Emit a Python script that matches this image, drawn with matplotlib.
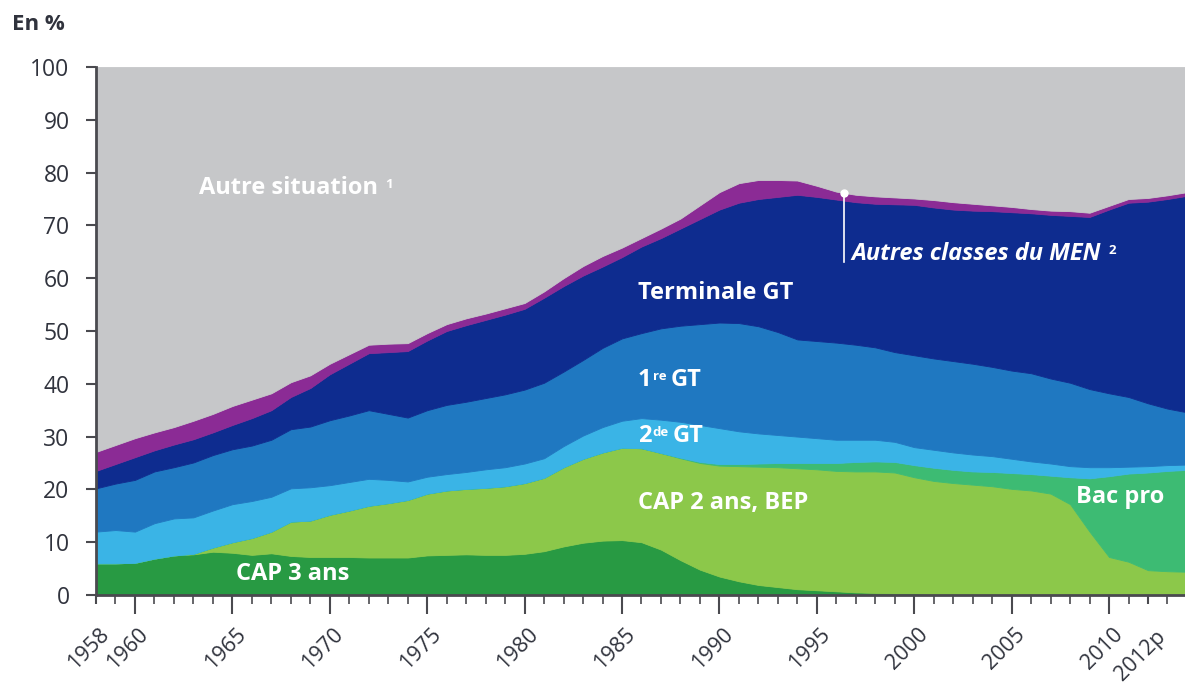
import matplotlib.pyplot as plt
import numpy as np
from matplotlib.transforms import ScaledTranslation

# shares in % of the age group, yearly from 1958 (last value closes the right edge)
years = np.arange(1958, 2015)

cap3 = [6.0, 6.0, 6.1, 6.9, 7.5, 7.7, 8.2, 8.0, 7.6, 7.9,
        7.4, 7.2, 7.2, 7.2, 7.1, 7.1, 7.1, 7.5, 7.6, 7.7,
        7.6, 7.6, 7.8, 8.3, 9.2, 9.9, 10.3, 10.4, 10.0, 8.6,
        6.6, 4.8, 3.5, 2.6, 1.9, 1.5, 1.1, 0.9, 0.7, 0.5,
        0.4, 0.3, 0.3, 0.2, 0.2, 0.1, 0.1, 0.1, 0.1, 0.1,
        0.1, 0.1, 0.1, 0.1, 0.1, 0.1, 0.1]
cap2_bep = [0.0, 0.0, 0.0, 0.0, 0.0, 0.1, 0.8, 2.0, 3.2, 4.1,
            6.5, 6.9, 8.0, 8.8, 9.8, 10.3, 10.9, 11.7, 12.2, 12.4,
            12.7, 13.0, 13.4, 13.9, 15.0, 15.9, 16.7, 17.5, 17.8, 18.3,
            19.3, 20.2, 21.0, 21.8, 22.4, 22.7, 22.9, 22.9, 22.8, 22.9,
            23.0, 22.9, 22.0, 21.4, 21.0, 20.8, 20.5, 20.0, 19.7, 19.1,
            17.1, 11.9, 7.1, 6.2, 4.6, 4.4, 4.3]
bac_pro = [0.0] * 30 + [
    0.1, 0.2, 0.3, 0.4, 0.6, 0.8, 1.0, 1.2, 1.5, 1.8,
    1.9, 2.0, 2.3, 2.5, 2.5, 2.5, 2.7, 3.0, 3.1, 3.4,
    5.1, 10.1, 15.3, 16.7, 18.5, 19.0, 19.3]
seconde_gt = [6.0, 6.3, 5.9, 6.7, 7.0, 6.9, 7.0, 7.2, 7.0, 6.6,
              6.3, 6.3, 5.6, 5.4, 5.1, 4.4, 3.5, 3.2, 3.1, 3.2,
              3.5, 3.6, 3.7, 3.7, 4.0, 4.4, 4.8, 5.1, 5.7, 6.3,
              6.8, 7.0, 6.8, 6.2, 5.7, 5.3, 5.0, 4.7, 4.4, 4.2,
              4.1, 3.8, 3.4, 3.4, 3.3, 3.2, 3.0, 2.7, 2.4, 2.3,
              2.1, 2.1, 1.7, 1.3, 1.2, 1.1, 1.0]
premiere_gt = [8.2, 8.8, 9.8, 9.8, 9.7, 10.4, 10.5, 10.4, 10.5, 10.8,
               11.2, 11.5, 12.3, 12.6, 13.0, 12.5, 12.1, 12.6, 13.1, 13.3,
               13.5, 13.8, 14.0, 14.3, 14.1, 14.3, 15.0, 15.6, 16.1, 17.3,
               18.2, 19.1, 20.0, 20.5, 20.3, 19.5, 18.4, 18.4, 18.4, 18.0,
               17.5, 17.0, 17.4, 17.3, 17.3, 17.2, 16.9, 16.7, 16.7, 16.1,
               15.8, 14.8, 14.0, 13.2, 11.9, 10.7, 9.9]
terminale_gt = [3.3, 3.7, 4.3, 4.0, 4.3, 4.4, 4.3, 4.6, 5.2, 5.6,
                6.1, 7.3, 8.7, 9.8, 10.8, 11.7, 12.6, 13.2, 14.0, 14.5,
                14.8, 15.1, 15.3, 16.1, 16.2, 16.0, 15.4, 15.4, 16.4, 17.1,
                18.4, 19.9, 21.4, 22.8, 24.1, 25.6, 27.4, 27.3, 27.1, 27.0,
                27.2, 28.0, 28.5, 28.6, 28.7, 29.0, 29.5, 30.0, 30.3, 31.0,
                31.6, 32.6, 34.8, 36.8, 38.2, 39.7, 41.0]
autres_men = [3.6, 3.6, 3.6, 3.4, 3.3, 3.5, 3.5, 3.6, 3.5, 3.2,
              2.8, 2.4, 2.0, 1.8, 1.6, 1.6, 1.5, 1.4, 1.3, 1.3,
              1.2, 1.2, 1.1, 1.2, 1.5, 1.8, 2.0, 1.8, 1.6, 1.8,
              1.9, 2.6, 3.3, 3.7, 3.6, 3.2, 2.7, 2.1, 1.5, 1.4,
              1.4, 1.3, 1.2, 1.4, 1.4, 1.3, 1.1, 1.0, 0.8, 0.8,
              0.9, 0.8, 0.7, 0.7, 0.7, 0.7, 0.7]

layers = np.array([cap3, cap2_bep, bac_pro, seconde_gt, premiere_gt,
                   terminale_gt, autres_men])
autre_situation = 100 - layers.sum(axis=0)

colors = ['#289a43', '#8cc84a', '#3dbb73', '#3ab4e6', '#1f78c1',
          '#0e2c8f', '#8b2b95', '#c6c7c9']

label_years = [1958, 1960, 1965, 1970, 1975, 1980, 1985, 1990, 1995,
               2000, 2005, 2010, 2012]
label_text = [str(y) for y in label_years[:-1]] + ['2012p']

plt.rcParams['font.family'] = ['Open Sans', 'DejaVu Sans']

txt = '#30333d'
axc = '#4a4a4f'

fig = plt.figure(figsize=(11.85, 6.86), dpi=100)
ax = fig.add_axes([96 / 1185, 1 - 595 / 686, 1 - 96 / 1185, 528 / 686])

polys = ax.stackplot(years, np.vstack([layers, autre_situation]), colors=colors)
for p in polys:
    p.set_edgecolor(p.get_facecolor())
    p.set_linewidth(0.6)

ax.set_xlim(1958, 2013.9)
ax.set_ylim(0, 100)

for s in ['top', 'right']:
    ax.spines[s].set_visible(False)
for s in ['left', 'bottom']:
    ax.spines[s].set_color(axc)
    ax.spines[s].set_linewidth(2)
    ax.spines[s].set_zorder(5)

ax.set_yticks(range(0, 101, 10))
ax.tick_params(axis='y', length=7, width=1.5, color=axc, labelsize=16.5,
               labelcolor=txt, pad=12)

ax.set_xticks(label_years)
ax.set_xticklabels(label_text, rotation=45, ha='right', rotation_mode='anchor')
ax.set_xticks(years[years <= 2013], minor=True)
ax.tick_params(axis='x', which='major', length=6.5, width=1.5, color=axc,
               labelsize=15.5, labelcolor=txt, pad=14)
ax.tick_params(axis='x', which='minor', length=6.5, width=1.2, color=axc)
for t, yv in zip(ax.xaxis.get_major_ticks(), label_years):
    t.tick1line.set_markersize(13.5 if yv % 5 == 0 else 6.5)
xlabels = ax.get_xticklabels()
for lab in xlabels:
    lab.set_transform(lab.get_transform() +
                      ScaledTranslation(3 / 100, 0, fig.dpi_scale_trans))
xlabels[-1].set_transform(xlabels[-1].get_transform() +
                          ScaledTranslation(4 / 100, -3 / 100, fig.dpi_scale_trans))

kw = dict(color='white', fontsize=17, fontweight='bold')


def label(x, y, base, sup='', rest='', gap=1.0, style='normal'):
    t = ax.text(x, y, base, va='center', fontstyle=style, **kw)
    if sup:
        s = ax.annotate(sup, xy=(1, 1), xycoords=t, xytext=(gap, -1.5),
                        textcoords='offset points', ha='left', va='top',
                        color='white', fontsize=9.5, fontweight='bold')
        if rest:
            ax.annotate(rest, xy=(1, 0.5), xycoords=(s, t), xytext=(3, 0),
                        textcoords='offset points', ha='left', va='center',
                        fontstyle=style, **kw)
    return t


label(1963.3, 77.1, 'Autre situation', '1', gap=5)
label(1985.8, 57.2, 'Terminale GT')
label(1985.8, 40.7, '1', 're', 'GT')
label(1985.8, 30.1, '2', 'de', 'GT')
label(1985.8, 17.4, 'CAP 2 ans, BEP')
label(2008.3, 18.6, 'Bac pro')
label(1965.2, 4.0, 'CAP 3 ans')
label(1996.8, 64.6, 'Autres classes du MEN', '2', gap=5, style='italic')

x_ptr = 1996.4
y_top = np.interp(x_ptr, years, layers.sum(axis=0))
ax.plot([x_ptr, x_ptr], [63.1, y_top], color='white', lw=1.2)
ax.plot([x_ptr], [y_top], 'o', color='white', ms=5)

fig.text(12 / 1185, 1 - 25 / 686, 'En %', fontsize=16, fontweight='bold',
         color=txt, va='center')

fig.savefig('out.png', dpi=100)
